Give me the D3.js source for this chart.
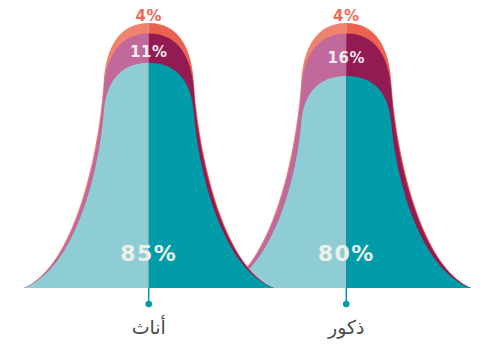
<!DOCTYPE html>
<html>
<head>
<meta charset="utf-8">
<script src="https://cdn.jsdelivr.net/npm/d3@7/dist/d3.min.js"></script>
<style>
  html, body { margin: 0; padding: 0; background: #ffffff; }
  svg { display: block; }
</style>
</head>
<body>
<svg id="chart" width="493" height="345"></svg>
<script>
// Groups and their shares (percent), stacked from the base of each bell upwards
const groups = ["أناث", "ذكور"];
const baseShare = [85, 80];   // teal layer
const middleShare = [11, 16]; // plum layer
const topShare = [4, 4];      // coral layer

const width = 493, height = 345;
const baseY = 288;
const halfWidth = 125;

const svg = d3.select("#chart");

// Horizontal position of each bell
const x = d3.scalePoint().domain(groups).range([50, 445]).padding(0.5);
// Height of each layer outline, in percent of the whole
const y = d3.scaleLinear().domain([0, 100]).range([baseY, 23]);
// Horizontal spread of the bell from its centre line
const spread = d3.scaleLinear().domain([0, 1]).range([0, halfWidth]);

// Half of a bell outline in unit space (u: 0 at centre .. 1 at the foot,
// v: 0 at the base .. 1 at the crest): a rounded dome on steep flanks.
const dome = [[0, 1], [0.24, 1], [0.342, 0.906], [0.36, 0.78]];
const flank = [[0.36, 0.78], [0.40, 0.50], [0.60, 0.08], [1, 0]];

const palette = {
  teal:  { light: "#8fcdd5", dark: "#009ca9" },
  plum:  { light: "#c0699a", dark: "#931b54" },
  coral: { light: "#f0836f", dark: "#ec6250" }
};

function halfBell(cx, side, level) {
  const px = u => cx + side * spread(u);
  const py = v => y(v * level);
  const p = d3.path();
  p.moveTo(cx, baseY);
  p.lineTo(px(1), baseY);
  p.bezierCurveTo(px(flank[2][0]), py(flank[2][1]), px(flank[1][0]), py(flank[1][1]), px(flank[0][0]), py(flank[0][1]));
  p.bezierCurveTo(px(dome[2][0]), py(dome[2][1]), px(dome[1][0]), py(dome[1][1]), px(dome[0][0]), py(dome[0][1]));
  p.closePath();
  return p.toString();
}

const rows = groups.map((g, i) => ({
  group: g,
  layers: [
    { key: "coral", level: baseShare[i] + middleShare[i] + topShare[i] },
    { key: "plum",  level: baseShare[i] + middleShare[i] },
    { key: "teal",  level: baseShare[i] }
  ],
  base: baseShare[i], middle: middleShare[i], top: topShare[i]
}));

// The second bell sits underneath the first where their feet overlap
const bells = svg.append("g")
  .selectAll("g.bell")
  .data(rows.slice().reverse())
  .join("g")
  .attr("class", "bell");

bells.each(function (d) {
  const g = d3.select(this);
  const cx = x(d.group);
  d.layers.forEach(layer => {
    g.append("path").attr("d", halfBell(cx, -1, layer.level)).attr("fill", palette[layer.key].light);
    g.append("path").attr("d", halfBell(cx, 1, layer.level)).attr("fill", palette[layer.key].dark);
  });
});

const labels = svg.append("g")
  .selectAll("g.labels")
  .data(rows)
  .join("g")
  .attr("class", "labels")
  .attr("font-family", "'DejaVu Sans', sans-serif")
  .attr("font-weight", "bold")
  .attr("text-anchor", "middle");

// Coral share above the crest
labels.append("text")
  .attr("x", d => x(d.group))
  .attr("y", d => y(d.base + d.middle + d.top) - 2)
  .attr("font-size", 15)
  .attr("letter-spacing", 0.5)
  .attr("fill", "#ef6a56")
  .text(d => d.top + "%");

// Plum share in the middle of its band
labels.append("text")
  .attr("x", d => x(d.group))
  .attr("y", d => (y(d.base + d.middle) + y(d.base)) / 2 + 8.5)
  .attr("font-size", 15)
  .attr("letter-spacing", 0.5)
  .attr("fill", "#ffffff")
  .attr("fill-opacity", 0.9)
  .text(d => d.middle + "%");

// Teal share near the base
labels.append("text")
  .attr("x", d => x(d.group))
  .attr("y", baseY - 27)
  .attr("font-size", 22)
  .attr("letter-spacing", 1.5)
  .attr("fill", "#efefea")
  .text(d => d.base + "%");

// Category markers and names under each bell
const axis = svg.append("g")
  .selectAll("g.tick")
  .data(groups)
  .join("g")
  .attr("class", "tick")
  .attr("transform", d => `translate(${x(d)},0)`);

axis.append("line")
  .attr("y1", baseY).attr("y2", 304)
  .attr("stroke", "#009ca9").attr("stroke-width", 1.5);

axis.append("circle")
  .attr("cy", 304).attr("r", 3.3)
  .attr("fill", "#009ca9");

axis.append("text")
  .attr("y", 334)
  .attr("text-anchor", "middle")
  .attr("font-family", "'DejaVu Sans', sans-serif")
  .attr("font-size", 19)
  .attr("fill", "#4a4a4a")
  .text(d => d);
</script>
</body>
</html>
